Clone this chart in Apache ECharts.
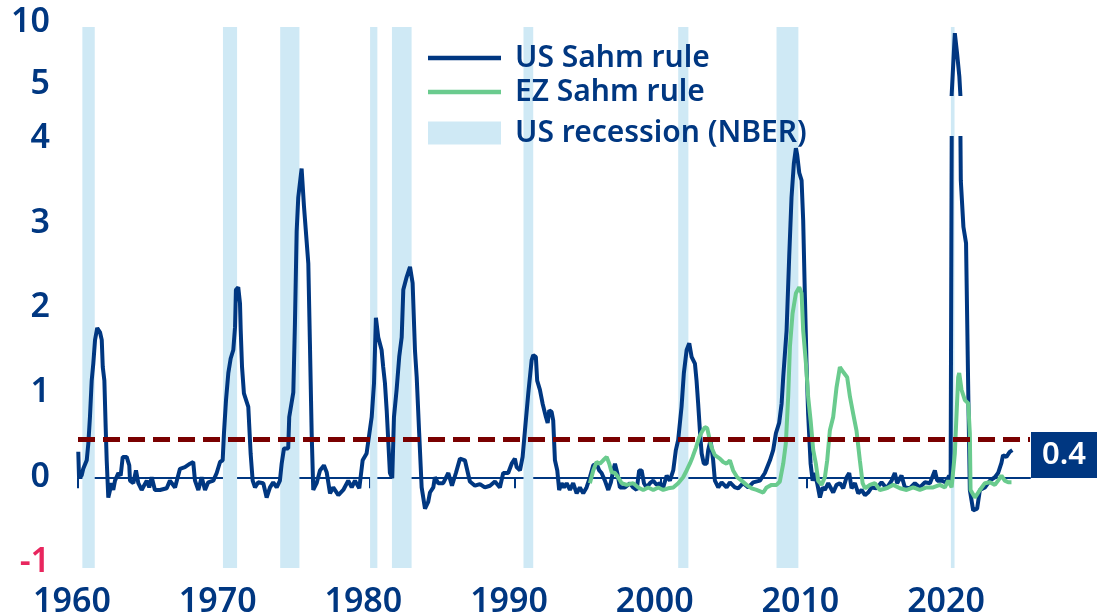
<!DOCTYPE html>
<html>
<head>
<meta charset="utf-8">
<title>US vs EZ Sahm rule</title>
<script src="https://cdn.jsdelivr.net/npm/echarts@6/dist/echarts.min.js"></script>
<style>
  html, body { margin: 0; padding: 0; background: #fff; }
  #chart { width: 1097px; height: 614px; }
</style>
</head>
<body>
<div id="chart"></div>
<script>
  // [decimal year, value]
  var usSahm = [
    [1960.02, 0.30], [1960.07, 0.00], [1960.25, 0.02], [1960.36, 0.10], [1960.60, 0.20], [1960.71, 0.40],
    [1960.82, 0.71], [1960.94, 1.14], [1961.05, 1.34], [1961.17, 1.62], [1961.32, 1.76], [1961.51, 1.71],
    [1961.63, 1.62], [1961.70, 1.30], [1961.81, 1.14], [1961.90, 0.59], [1961.97, 0.20], [1962.08, -0.24],
    [1962.20, -0.25], [1962.31, -0.07], [1962.42, -0.15], [1962.54, -0.04], [1962.77, 0.05], [1962.93, 0.02],
    [1963.07, 0.24], [1963.34, 0.24], [1963.52, 0.14], [1963.57, -0.04], [1963.80, -0.07], [1963.98, 0.08],
    [1964.14, -0.07], [1964.37, -0.15], [1964.72, -0.04], [1964.89, -0.12], [1965.06, 0.00], [1965.28, -0.15],
    [1965.63, -0.15], [1966.09, -0.13], [1966.31, -0.04], [1966.66, -0.12], [1967.00, 0.10], [1967.34, 0.12],
    [1967.69, 0.16], [1967.91, 0.18], [1968.03, -0.04], [1968.26, -0.15], [1968.49, 0.00], [1968.72, -0.15],
    [1968.94, -0.06], [1969.29, -0.04], [1969.52, 0.05], [1969.75, 0.18], [1969.93, 0.20], [1970.02, 0.52],
    [1970.16, 0.91], [1970.32, 1.23], [1970.48, 1.40], [1970.66, 1.50], [1970.78, 1.77], [1970.84, 2.21],
    [1971.00, 2.24], [1971.12, 2.05], [1971.17, 1.73], [1971.26, 1.30], [1971.39, 0.99], [1971.69, 0.83],
    [1971.85, 0.28], [1971.99, -0.04], [1972.15, -0.12], [1972.37, -0.06], [1972.72, -0.07], [1972.95, -0.24],
    [1973.18, -0.12], [1973.40, -0.06], [1973.64, -0.12], [1973.86, -0.04], [1973.98, 0.16], [1974.14, 0.34],
    [1974.43, 0.34], [1974.50, 0.71], [1974.78, 1.00], [1974.89, 1.80], [1975.01, 2.90], [1975.12, 3.30],
    [1975.35, 3.64], [1975.51, 3.20], [1975.81, 2.52], [1975.92, 1.58], [1976.04, 0.52], [1976.15, -0.15],
    [1976.38, -0.07], [1976.61, 0.08], [1976.88, 0.14], [1977.07, 0.06], [1977.30, -0.19], [1977.52, -0.12],
    [1977.87, -0.21], [1978.21, -0.15], [1978.55, -0.04], [1978.79, -0.12], [1979.01, -0.04], [1979.31, -0.13],
    [1979.54, 0.20], [1979.81, 0.28], [1980.16, 0.71], [1980.32, 1.11], [1980.45, 1.88], [1980.57, 1.88],
    [1980.61, 1.65], [1980.84, 1.50], [1980.95, 1.30], [1981.07, 1.11], [1981.19, 0.79], [1981.41, 0.05],
    [1981.57, -0.01], [1981.69, 0.71], [1981.87, 1.03], [1982.05, 1.42], [1982.22, 1.65], [1982.33, 2.21],
    [1982.56, 2.36], [1982.79, 2.48], [1982.97, 2.29], [1983.13, 1.50], [1983.25, 1.18], [1983.42, 0.52],
    [1983.59, -0.12], [1983.82, -0.37], [1984.04, -0.29], [1984.16, -0.18], [1984.39, -0.12], [1984.50, 0.00],
    [1984.73, -0.07], [1985.07, -0.07], [1985.42, 0.05], [1985.67, -0.10], [1985.94, 0.05], [1986.22, 0.22],
    [1986.56, 0.20], [1986.90, -0.05], [1987.25, -0.10], [1987.59, -0.08], [1987.93, -0.12], [1988.28, -0.10],
    [1988.62, -0.05], [1988.96, -0.12], [1989.19, 0.05], [1989.53, 0.05], [1989.77, 0.16], [1989.99, 0.22],
    [1990.11, 0.12], [1990.34, 0.08], [1990.52, 0.24], [1990.68, 0.55], [1990.91, 0.99], [1991.14, 1.38],
    [1991.25, 1.44], [1991.43, 1.42], [1991.52, 1.14], [1991.71, 1.03], [1991.89, 0.87], [1992.12, 0.71],
    [1992.24, 0.64], [1992.35, 0.79], [1992.51, 0.77], [1992.62, 0.67], [1992.74, 0.20], [1992.90, 0.08],
    [1993.03, -0.15], [1993.20, -0.07], [1993.36, -0.12], [1993.54, -0.07], [1993.77, -0.15], [1993.99, -0.07],
    [1994.23, -0.19], [1994.45, -0.12], [1994.68, -0.19], [1994.91, -0.12], [1995.14, 0.00], [1995.37, 0.14],
    [1995.60, 0.16], [1995.78, 0.08], [1995.94, 0.05], [1996.17, -0.04], [1996.40, -0.15], [1996.58, -0.06],
    [1996.74, 0.08], [1996.86, 0.16], [1997.02, 0.05], [1997.20, -0.12], [1997.54, -0.12], [1997.89, -0.07],
    [1998.11, -0.12], [1998.35, -0.15], [1998.52, 0.08], [1998.69, 0.08], [1998.85, -0.07], [1999.03, -0.12],
    [1999.26, -0.07], [1999.49, -0.04], [1999.72, -0.09], [1999.95, -0.07], [2000.17, -0.12], [2000.41, 0.02],
    [2000.63, -0.04], [2000.86, 0.08], [2001.04, 0.32], [2001.20, 0.44], [2001.43, 0.83], [2001.59, 1.23],
    [2001.78, 1.50], [2001.96, 1.58], [2002.12, 1.42], [2002.35, 1.34], [2002.46, 1.14], [2002.57, 0.87],
    [2002.69, 0.55], [2002.81, 0.28], [2002.96, 0.16], [2003.15, 0.16], [2003.26, 0.32], [2003.42, 0.44],
    [2003.60, 0.20], [2003.72, -0.04], [2003.95, -0.12], [2004.18, -0.06], [2004.52, -0.12], [2004.75, -0.06],
    [2005.09, -0.12], [2005.32, -0.13], [2005.66, -0.07], [2006.01, -0.12], [2006.35, -0.06], [2006.81, -0.04],
    [2007.15, 0.05], [2007.50, 0.20], [2007.72, 0.32], [2007.91, 0.52], [2008.13, 0.64], [2008.30, 0.87],
    [2008.41, 1.18], [2008.64, 1.73], [2008.82, 2.60], [2008.98, 3.30], [2009.14, 3.70], [2009.28, 3.88],
    [2009.37, 3.80], [2009.51, 3.59], [2009.67, 3.50], [2009.78, 3.03], [2009.90, 2.12], [2010.01, 1.34],
    [2010.12, 0.75], [2010.29, 0.16], [2010.43, -0.04], [2010.58, 0.05], [2010.74, -0.07], [2010.93, -0.24],
    [2011.11, -0.12], [2011.27, -0.15], [2011.50, -0.07], [2011.84, -0.18], [2012.07, -0.09], [2012.30, -0.07],
    [2012.53, -0.13], [2012.76, 0.00], [2012.94, 0.05], [2013.10, -0.13], [2013.33, -0.07], [2013.56, -0.19],
    [2013.79, -0.15], [2014.02, -0.21], [2014.24, -0.18], [2014.48, -0.12], [2014.82, -0.13], [2015.16, -0.06],
    [2015.50, -0.13], [2015.85, -0.04], [2016.07, 0.05], [2016.23, -0.07], [2016.53, 0.02], [2016.76, -0.12],
    [2017.10, -0.13], [2017.45, -0.07], [2017.79, -0.12], [2018.13, -0.06], [2018.48, -0.07], [2018.82, 0.08],
    [2018.98, -0.04], [2019.28, -0.04], [2019.57, -0.06], [2019.80, 0.02], [2019.90, -0.04], [2019.98, 4.30],
    [2020.19, 9.10], [2020.35, 7.40], [2020.50, 5.60], [2020.60, 3.50], [2020.78, 2.95], [2020.96, 2.76],
    [2021.12, 0.91], [2021.22, -0.15], [2021.45, -0.39], [2021.72, -0.37], [2021.91, -0.15], [2022.25, -0.12],
    [2022.60, -0.04], [2022.94, 0.00], [2023.16, 0.05], [2023.39, 0.17], [2023.50, 0.26], [2023.73, 0.24],
    [2023.96, 0.30], [2024.14, 0.32]
  ];

  var ezSahm = [
    [1995.14, -0.07], [1995.37, 0.08], [1995.60, 0.18], [1995.83, 0.16], [1996.05, 0.20], [1996.29, 0.24],
    [1996.47, 0.16], [1996.63, 0.06], [1996.86, 0.05], [1997.08, 0.00], [1997.32, -0.07], [1997.66, -0.09],
    [1998.11, -0.07], [1998.46, -0.12], [1998.80, -0.15], [1999.14, -0.12], [1999.49, -0.15], [1999.83, -0.12],
    [2000.17, -0.15], [2000.51, -0.13], [2000.86, -0.12], [2001.20, -0.07], [2001.54, 0.00], [2001.78, 0.08],
    [2002.00, 0.16], [2002.19, 0.24], [2002.42, 0.35], [2002.64, 0.47], [2002.81, 0.53], [2003.03, 0.59],
    [2003.19, 0.58], [2003.33, 0.47], [2003.49, 0.35], [2003.72, 0.26], [2004.06, 0.22], [2004.29, 0.18],
    [2004.52, 0.16], [2004.75, 0.20], [2004.97, 0.08], [2005.25, 0.00], [2005.55, -0.04], [2005.89, -0.09],
    [2006.24, -0.13], [2006.58, -0.15], [2007.04, -0.18], [2007.27, -0.12], [2007.61, -0.09], [2007.95, -0.09],
    [2008.18, -0.05], [2008.41, 0.16], [2008.59, 0.40], [2008.75, 0.95], [2008.87, 1.54], [2009.05, 1.93],
    [2009.28, 2.17], [2009.51, 2.24], [2009.67, 2.17], [2009.78, 1.73], [2009.97, 1.34], [2010.12, 0.95],
    [2010.29, 0.67], [2010.47, 0.32], [2010.65, 0.16], [2010.81, -0.04], [2011.04, -0.09], [2011.27, 0.00],
    [2011.43, 0.20], [2011.61, 0.55], [2011.84, 0.71], [2012.07, 1.06], [2012.30, 1.30], [2012.53, 1.24],
    [2012.80, 1.18], [2012.99, 0.95], [2013.21, 0.75], [2013.44, 0.55], [2013.67, 0.20], [2013.86, -0.07],
    [2014.02, -0.13], [2014.36, -0.09], [2014.70, -0.07], [2015.04, -0.15], [2015.50, -0.13], [2015.96, -0.09],
    [2016.42, -0.13], [2016.88, -0.15], [2017.33, -0.12], [2017.79, -0.15], [2018.25, -0.12], [2018.70, -0.12],
    [2019.16, -0.09], [2019.51, -0.12], [2019.73, -0.04], [2019.97, -0.12], [2020.19, 0.28], [2020.42, 1.18],
    [2020.49, 1.23], [2020.65, 1.03], [2020.88, 0.91], [2021.11, 0.87], [2021.22, 0.52], [2021.27, -0.15],
    [2021.57, -0.24], [2021.91, -0.15], [2022.25, -0.07], [2022.60, -0.06], [2022.94, -0.09], [2023.16, -0.04],
    [2023.39, 0.02], [2023.62, -0.04], [2023.85, -0.06], [2024.08, -0.06]
  ];

  // NBER recessions, start / end as decimal years
  var recStart = [1960.30, 1969.95, 1973.88, 1980.05, 1981.55, 1990.58, 2001.20, 2007.95, 2019.92];
  var recEnd   = [1961.15, 1970.92, 1975.20, 1980.55, 1982.90, 1991.25, 2001.90, 2009.45, 2020.17];

  var xTicks = [1960, 1970, 1980, 1990, 2000, 2010, 2020];
  var lowTicks = [-1, 0, 1, 2, 3, 4];
  var highTicks = [5, 10];
  var threshold = 0.45;
  var thresholdLabel = '0.4';

  var navy = '#003781';
  var green = '#6acb8e';
  var band = '#cfe9f5';
  var red = '#7a0000';
  var pink = '#e8265e';
  var font = 'Noto Sans';

  var chart = echarts.init(document.getElementById('chart'));

  var gridL = 78, gridR = 67;

  function legendCfg(name, top, h) {
    return {
      data: [name], left: 428, top: top, orient: 'vertical', padding: 0,
      icon: 'rect', itemWidth: 73, itemHeight: h, selectedMode: false,
      textStyle: { color: navy, fontSize: 30, fontFamily: font, fontWeight: 600, padding: [0, 0, 0, 9] }
    };
  }

  var option = {
    animation: false,
    backgroundColor: '#fff',
    legend: [
      legendCfg('US Sahm rule', 43, 4.5),
      legendCfg('EZ Sahm rule', 77, 4.5),
      legendCfg('US recession (NBER)', 118, 23)
    ],
    grid: [
      { left: gridL, right: gridR, top: 138, bottom: 46, outerBoundsMode: 'none' },   // lower panel
      { left: gridL, right: gridR, top: 22, bottom: 520, outerBoundsMode: 'none' },   // upper panel (broken axis)
      { left: gridL, right: gridR, top: 27, bottom: 46, outerBoundsMode: 'none' }     // recession bands
    ],
    xAxis: [
      {
        gridIndex: 0, type: 'value', min: 1960, max: 2025.35,
        splitLine: { show: false },
        axisLine: { lineStyle: { color: navy, width: 2 } },
        axisTick: { customValues: xTicks, length: 11, lineStyle: { color: navy, width: 2 } },
        axisLabel: {
          customValues: xTicks, margin: 17, color: navy, fontSize: 34,
          fontFamily: font, fontWeight: 600, padding: [0, 12, 0, 0],
          alignMinLabel: 'center', alignMaxLabel: 'center',
          formatter: function (v) { return String(v); }
        }
      },
      { gridIndex: 1, type: 'value', min: 1960, max: 2025.35, show: false },
      { gridIndex: 2, type: 'value', min: 1960, max: 2025.35, show: false }
    ],
    yAxis: [
      {
        gridIndex: 0, type: 'value', min: -1.07, max: 4,
        splitLine: { show: false }, axisLine: { show: false }, axisTick: { show: false },
        axisLabel: {
          customValues: lowTicks, margin: 28, fontSize: 34, fontFamily: font, fontWeight: 600,
          color: function (v) { return v < 0 ? pink : navy; },
          formatter: function (v) { return String(v); }
        }
      },
      {
        gridIndex: 1, type: 'value', min: 4.2, max: 10,
        splitLine: { show: false }, axisLine: { show: false }, axisTick: { show: false },
        axisLabel: {
          customValues: highTicks, margin: 28, fontSize: 34, fontFamily: font, fontWeight: 600,
          color: navy, formatter: function (v) { return String(v); }
        }
      },
      { gridIndex: 2, type: 'value', min: 0, max: 1, show: false }
    ],
    series: [
      {
        name: 'US recession (NBER)', type: 'custom', xAxisIndex: 2, yAxisIndex: 2, z: 1,
        itemStyle: { color: band },
        encode: { x: [0, 1] },
        data: recStart.map(function (s, i) { return [s, recEnd[i]]; }),
        renderItem: function (params, api) {
          var a = api.coord([api.value(0), 1]);
          var b = api.coord([api.value(1), 0]);
          return {
            type: 'rect',
            shape: { x: a[0], y: a[1], width: b[0] - a[0], height: b[1] - a[1] },
            style: api.style()
          };
        }
      },
      {
        name: 'US Sahm rule', type: 'line', xAxisIndex: 0, yAxisIndex: 0, z: 3,
        symbol: 'none', data: usSahm, clip: true,
        lineStyle: { color: navy, width: 4 }, itemStyle: { color: navy }
      },
      {
        name: 'US Sahm rule', type: 'line', xAxisIndex: 1, yAxisIndex: 1, z: 3,
        symbol: 'none', data: usSahm, clip: true,
        lineStyle: { color: navy, width: 4 }, itemStyle: { color: navy }
      },
      {
        name: 'EZ Sahm rule', type: 'line', xAxisIndex: 0, yAxisIndex: 0, z: 4,
        symbol: 'none', data: ezSahm, clip: true,
        lineStyle: { color: green, width: 4 }, itemStyle: { color: green }
      },
      {
        name: 'threshold', type: 'line', xAxisIndex: 0, yAxisIndex: 0, z: 6,
        data: [],
        markLine: {
          silent: true, symbol: ['none', 'none'],
          lineStyle: { color: red, width: 5, type: [17, 8] },
          label: {
            show: true, position: 'end', distance: 1,
            formatter: '{s| }\n{a|' + thresholdLabel + '}',
            rich: {
              s: { height: 32, lineHeight: 32, fontSize: 10 },
              a: {
                width: 66, height: 46, lineHeight: 40, align: 'center',
                color: '#fff', backgroundColor: navy,
                fontSize: 31, fontFamily: font, fontWeight: 600
              }
            }
          },
          data: [{ yAxis: threshold }]
        }
      }
    ]
  };

  chart.setOption(option);
  window.addEventListener('resize', function () { chart.resize(); });
</script>
</body>
</html>
